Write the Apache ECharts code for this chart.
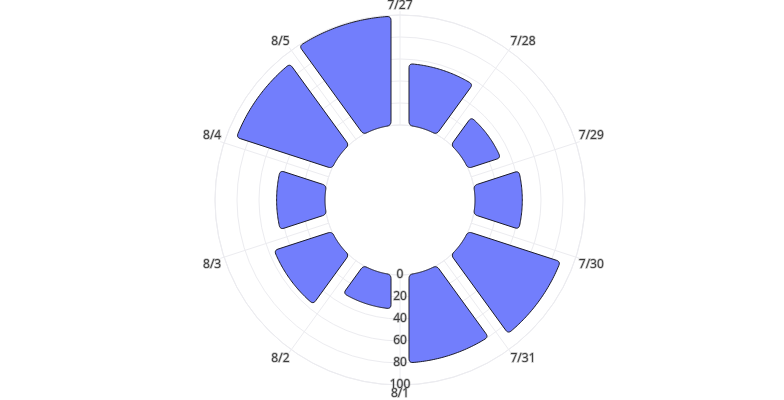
<!DOCTYPE html>
<html>
<head>
<meta charset="utf-8">
<script src="https://cdn.jsdelivr.net/npm/echarts@6/dist/echarts.min.js"></script>
<style>
html,body{margin:0;padding:0;background:#fff;}
#chart{width:784px;height:400px;}
</style>
</head>
<body>
<div id="chart"></div>
<script>
// Category labels (angular axis), one bar per date
const categories = ['7/27', '7/28', '7/29', '7/30', '7/31', '8/1', '8/2', '8/3', '8/4', '8/5'];
// Bar values (radial)
const values = [99, 56, 31, 43, 88, 80, 31, 55, 44, 91];
// Radial tick labels
const radiusTicks = [0, 20, 40, 60, 80, 100];

const rMin = radiusTicks[0];
const rMax = radiusTicks[radiusTicks.length - 1];
const rStep = radiusTicks[1] - radiusTicks[0];

const gridColor = '#ececf0';
const textColor = '#3c3c3c';
const barColor = '#727efc';
const barBorder = '#1c1c2c';
const center = [400, 200];
const radius = [75, 185];
const halfGap = 9;      // px, half of the parallel gap between bars
const cornerR = 4;      // px, corner rounding

function renderBar(params, api) {
  const cx = params.coordSys.cx, cy = params.coordSys.cy;
  const n = categories.length;
  const v = api.value(0), idx = api.value(1);
  const po = api.coord([v, idx]);
  const pi = api.coord([rMin, idx]);
  const pn = api.coord([v, (idx + 1) % n]);
  const Ro = Math.hypot(po[0] - cx, po[1] - cy);
  const Ri = Math.hypot(pi[0] - cx, pi[1] - cy);
  const ac = Math.atan2(cy - po[1], po[0] - cx);
  const an = Math.atan2(cy - pn[1], pn[0] - cx);
  let diff = ac - an;
  while (diff > Math.PI) diff -= 2 * Math.PI;
  while (diff < -Math.PI) diff += 2 * Math.PI;
  const h = Math.abs(diff) / 2;
  const P = (r, a) => [cx + r * Math.cos(a), cy - r * Math.sin(a)];
  const aOL = ac + h - Math.asin(halfGap / Ro);
  const aOR = ac - h + Math.asin(halfGap / Ro);
  const aIR = ac - h + Math.asin(halfGap / Ri);
  const aIL = ac + h - Math.asin(halfGap / Ri);
  const OL = P(Ro, aOL), OR = P(Ro, aOR), IR = P(Ri, aIR), IL = P(Ri, aIL);
  const toward = (a, b, d) => {
    const dx = b[0] - a[0], dy = b[1] - a[1];
    const L = Math.hypot(dx, dy) || 1;
    return [a[0] + dx / L * d, a[1] + dy / L * d];
  };
  const quad = (p0, c, p1, pts) => {
    for (let k = 1; k <= 6; k++) {
      const t = k / 6, u = 1 - t;
      pts.push([u * u * p0[0] + 2 * u * t * c[0] + t * t * p1[0],
                u * u * p0[1] + 2 * u * t * c[1] + t * t * p1[1]]);
    }
  };
  const pts = [];
  const N = 40;
  // outer arc
  const oa0 = aOL - cornerR / Ro, oa1 = aOR + cornerR / Ro;
  for (let k = 0; k <= N; k++) pts.push(P(Ro, oa0 + (oa1 - oa0) * k / N));
  // outer-right corner
  const orEdge = toward(OR, IR, cornerR);
  quad(pts[pts.length - 1], OR, orEdge, pts);
  // right edge to inner-right corner
  const irEdge = toward(IR, OR, cornerR);
  pts.push(irEdge);
  const ia0 = aIR + cornerR / Ri, ia1 = aIL - cornerR / Ri;
  quad(irEdge, IR, P(Ri, ia0), pts);
  // inner arc
  for (let k = 1; k <= N; k++) pts.push(P(Ri, ia0 + (ia1 - ia0) * k / N));
  // inner-left corner
  const ilEdge = toward(IL, OL, cornerR);
  quad(pts[pts.length - 1], IL, ilEdge, pts);
  // left edge
  const olEdge = toward(OL, IL, cornerR);
  pts.push(olEdge);
  quad(olEdge, OL, P(Ro, oa0), pts);
  return {
    type: 'polygon',
    shape: { points: pts },
    style: { fill: barColor, stroke: barBorder, lineWidth: 1 }
  };
}

const labelStyle = {
  color: textColor, fontSize: 12, fontFamily: 'Open Sans',
  textBorderColor: 'rgba(120,120,120,0.45)', textBorderWidth: 1.4
};

const chart = echarts.init(document.getElementById('chart'));
chart.setOption({
  backgroundColor: '#fff',
  animation: false,
  textStyle: { fontFamily: 'Open Sans' },
  polar: [
    { center: center, radius: radius },
    { center: center, radius: radius },
    { center: center, radius: radius }
  ],
  angleAxis: [
    {
      polarIndex: 0, type: 'category', data: categories,
      startAngle: 126, clockwise: true,
      axisLine: { show: false }, axisTick: { show: false }, axisLabel: { show: false },
      splitLine: { show: true, lineStyle: { color: gridColor, width: 1 } }
    },
    {
      polarIndex: 1, type: 'category', data: categories,
      startAngle: 108, clockwise: true,
      axisLine: { show: true, lineStyle: { color: gridColor, width: 1 } },
      axisTick: { show: true, alignWithLabel: true, length: 4, lineStyle: { color: gridColor } },
      axisLabel: Object.assign({ show: true, margin: 3 }, labelStyle),
      splitLine: { show: false }
    },
    {
      polarIndex: 2, type: 'value', min: 0, max: 360, startAngle: 270, clockwise: true,
      axisLine: { show: false }, axisTick: { show: false }, axisLabel: { show: false },
      splitLine: { show: false }
    }
  ],
  radiusAxis: [
    {
      polarIndex: 0, type: 'value', min: rMin, max: rMax, interval: rStep,
      axisLine: { show: false }, axisTick: { show: false }, axisLabel: { show: false },
      splitLine: { show: true, lineStyle: { color: gridColor, width: 1 } }
    },
    {
      polarIndex: 1, type: 'value', min: rMin, max: rMax, interval: rStep,
      axisLine: { show: false }, axisTick: { show: false }, axisLabel: { show: false },
      splitLine: { show: false }
    },
    {
      polarIndex: 2, type: 'value', min: rMin, max: rMax, interval: rStep, z: 10,
      axisLine: { show: false }, axisTick: { show: false },
      axisLabel: Object.assign({ show: true, margin: 0, align: 'center', verticalAlign: 'middle' }, labelStyle),
      splitLine: { show: false }
    }
  ],
  series: [
    {
      type: 'custom',
      coordinateSystem: 'polar',
      polarIndex: 0,
      data: values.map((v, i) => [v, i]),
      renderItem: renderBar
    }
  ]
});
</script>
</body>
</html>
